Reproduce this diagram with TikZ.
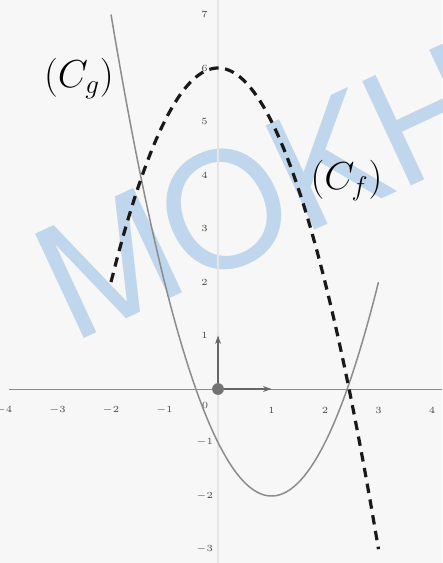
\documentclass[tikz,border=0pt]{standalone}
\usepackage{fontspec}
\newfontfamily\wmfont{TeX Gyre Heros}
\usetikzlibrary{arrows.meta}
\definecolor{wmblue}{RGB}{168,200,232}
\tikzset{
  xaxisline/.style={draw=black!45, line width=0.5pt},
  yaxisline/.style={draw=black!10, line width=0.9pt},
  ticklabel/.style={font=\tiny, text=black!70, inner sep=1pt},
  curvef/.style={draw=black!90, line width=1.7pt, dash pattern=on 5pt off 3.5pt},
  curveg/.style={draw=black!45, line width=0.8pt},
  curvelabel/.style={font=\fontsize{20}{20}\selectfont, inner sep=1pt},
  vec/.style={-{Stealth[length=1.6mm, width=1.1mm]}, draw=black!60, line width=0.6pt},
  dot/.style={circle, fill=black!55, inner sep=0pt, minimum size=2.2mm},
  wmark/.style={font=\wmfont\fontsize{84}{84}\selectfont, text=wmblue, opacity=0.7},
}

\begin{document}
\begin{tikzpicture}
  \fill[white!97!black] (-4.075,-3.252) rectangle (4.187,7.271);
  \useasboundingbox (-4.075,-3.252) rectangle (4.187,7.271);
  % watermark
  \node[wmark, rotate=25] (wm) at (0.85,3.7) {MOKH};
  % axes
  \draw[yaxisline] (0,-3.252) -- (0,7.271);
  \draw[xaxisline] (-3.9,0) -- (4.187,0);
  \foreach \x in {-4,-3,-2,-1,1,2,3,4}
    \node[ticklabel] (xl\x) at (\x,-0.4) {$\x$};
  \foreach \y in {-3,-2,-1,1,2,3,4,5,6,7}
    \node[ticklabel] (yl\y) at (-0.25,\y) {$\y$};
  \node[ticklabel] (zero) at (-0.24,-0.3) {$0$};
  % curves
  \draw[curveg, domain=-2:3, samples=80] plot (\x, {\x*\x-2*\x-1});
  \draw[curvef, domain=-2:3, samples=80] plot (\x, {6-\x*\x});
  \node[curvelabel] (cg) at (-2.6,5.8) {$(C_g)$};
  \node[curvelabel] (cf) at (2.4,3.9) {$(C_f)$};
  % unit vectors
  \node[dot] (o) at (0,0) {};
  \coordinate (i) at (1,0);
  \coordinate (j) at (0,1);
  \draw[vec] (o) -- (i);
  \draw[vec] (o) -- (j);
\end{tikzpicture}
\end{document}
